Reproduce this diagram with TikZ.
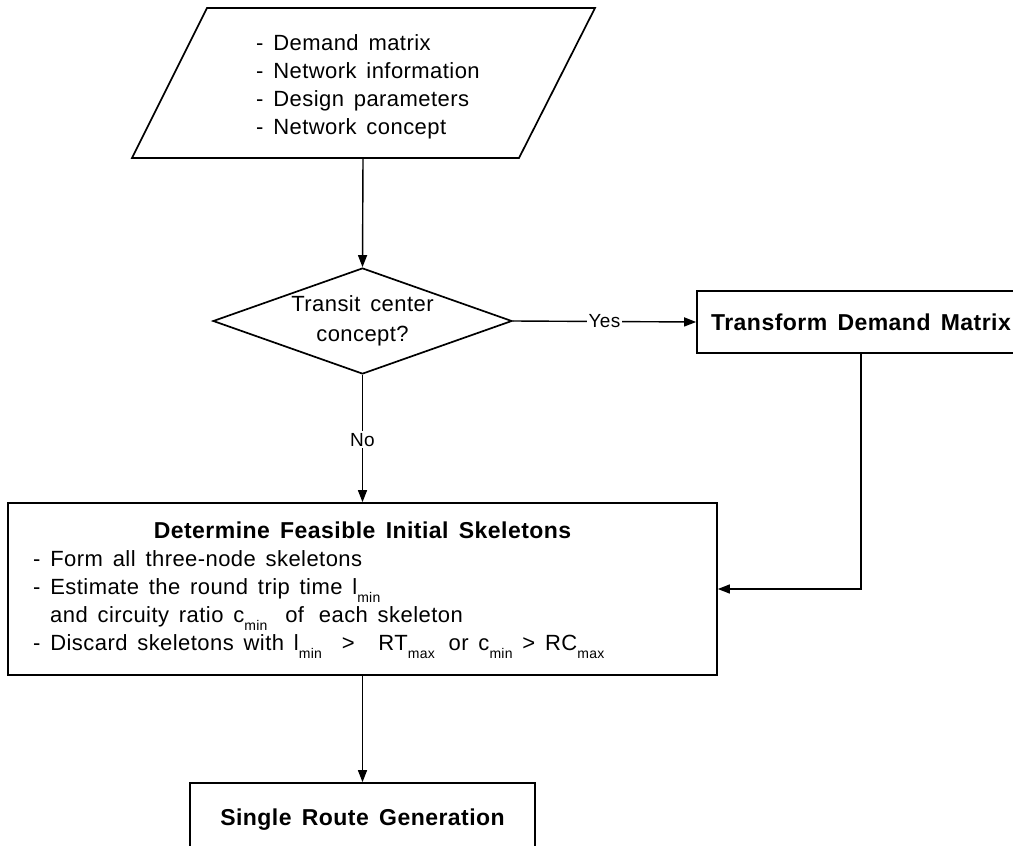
\documentclass[tikz,border=0pt]{standalone}
\usepackage{fontspec}
\setmainfont[LetterSpace=2,WordSpace=1.5]{Liberation Sans}
\usetikzlibrary{shapes.geometric,arrows.meta}

% text sizes
\newcommand\normaltext{\fontsize{22}{28}\selectfont}
\newcommand\decisiontext{\fontsize{22}{30}\selectfont}
\newcommand\headtext{\fontsize{23}{27}\selectfont\bfseries}
\newcommand\lbltext{\fontsize{19}{22}\selectfont}
% lowered index such as l_min, RT_max
\newcommand\subidx[1]{\raisebox{-8pt}{\fontsize{14}{14}\selectfont #1}}

\tikzset{
  outline/.style={line width=1.7pt, line join=miter},
  box/.style={draw, rectangle, outline, inner sep=0pt},
  decision/.style={draw, diamond, outline, inner sep=0pt, aspect=2.82,
    minimum width=299pt, minimum height=106pt, align=center, font=\decisiontext},
  flow/.style={line width=1.4pt, -{Triangle[length=12pt,width=9pt]}},
  lbl/.style={fill=white, inner sep=2pt, font=\lbltext},
  item/.style={anchor=base west, inner sep=0pt, font=\normaltext},
  title/.style={anchor=base, inner sep=0pt, font=\headtext},
}

\begin{document}
\begin{tikzpicture}[x=1pt,y=-1pt]
\useasboundingbox (0,0) rectangle (1013,846);

% input data (parallelogram)
\draw[outline] (207,8) -- (595,8) -- (519,158) -- (132,158) -- cycle;
\coordinate (inbot) at (363,158);
\node[item] (in1) at (256,50)  {- Demand matrix};
\node[item] (in2) at (256,78)  {- Network information};
\node[item] (in3) at (256,106) {- Design parameters};
\node[item] (in4) at (256,134) {- Network concept};

% decision
\node[decision] (dec) at (362.5,321) {Transit center\\concept?};

% transform step
\node[box, minimum width=328pt, minimum height=62pt, font=\headtext] (tdm) at (861,322) {Transform Demand Matrix};

% skeleton step
\node[box, minimum width=709pt, minimum height=172pt] (det) at (362.5,589) {};
\node[title] (dett) at (362.5,538) {Determine Feasible Initial Skeletons};
\node[item] (d1) at (33,566) {- Form all three-node skeletons};
\node[item] (d2) at (33,594) {- Estimate the round trip time l\subidx{min}};
\node[item] (d3) at (50,622) {and circuity ratio c\subidx{min}\hspace{8pt} of\hspace{5pt} each skeleton};
\node[item] (d4) at (33,650) {- Discard skeletons with l\subidx{min}\hspace{10pt} >\hspace{14pt} RT\subidx{max}\hspace{4pt} or c\subidx{min} > RC\subidx{max}};

% route generation
\node[box, minimum width=345pt, minimum height=74pt, font=\headtext] (single) at (362.5,820) {Single Route Generation};

% connectors
\draw[flow] (inbot) -- (dec.north);
\draw[flow] (dec.east) -- node[lbl, pos=0.5] {Yes} (tdm.west);
\draw[flow] (dec.south) -- node[lbl, pos=0.51] {No} (det.north);
\draw[flow] (tdm.south) |- (det.east);
\draw[flow] (det.south) -- (single.north);
\end{tikzpicture}
\end{document}
